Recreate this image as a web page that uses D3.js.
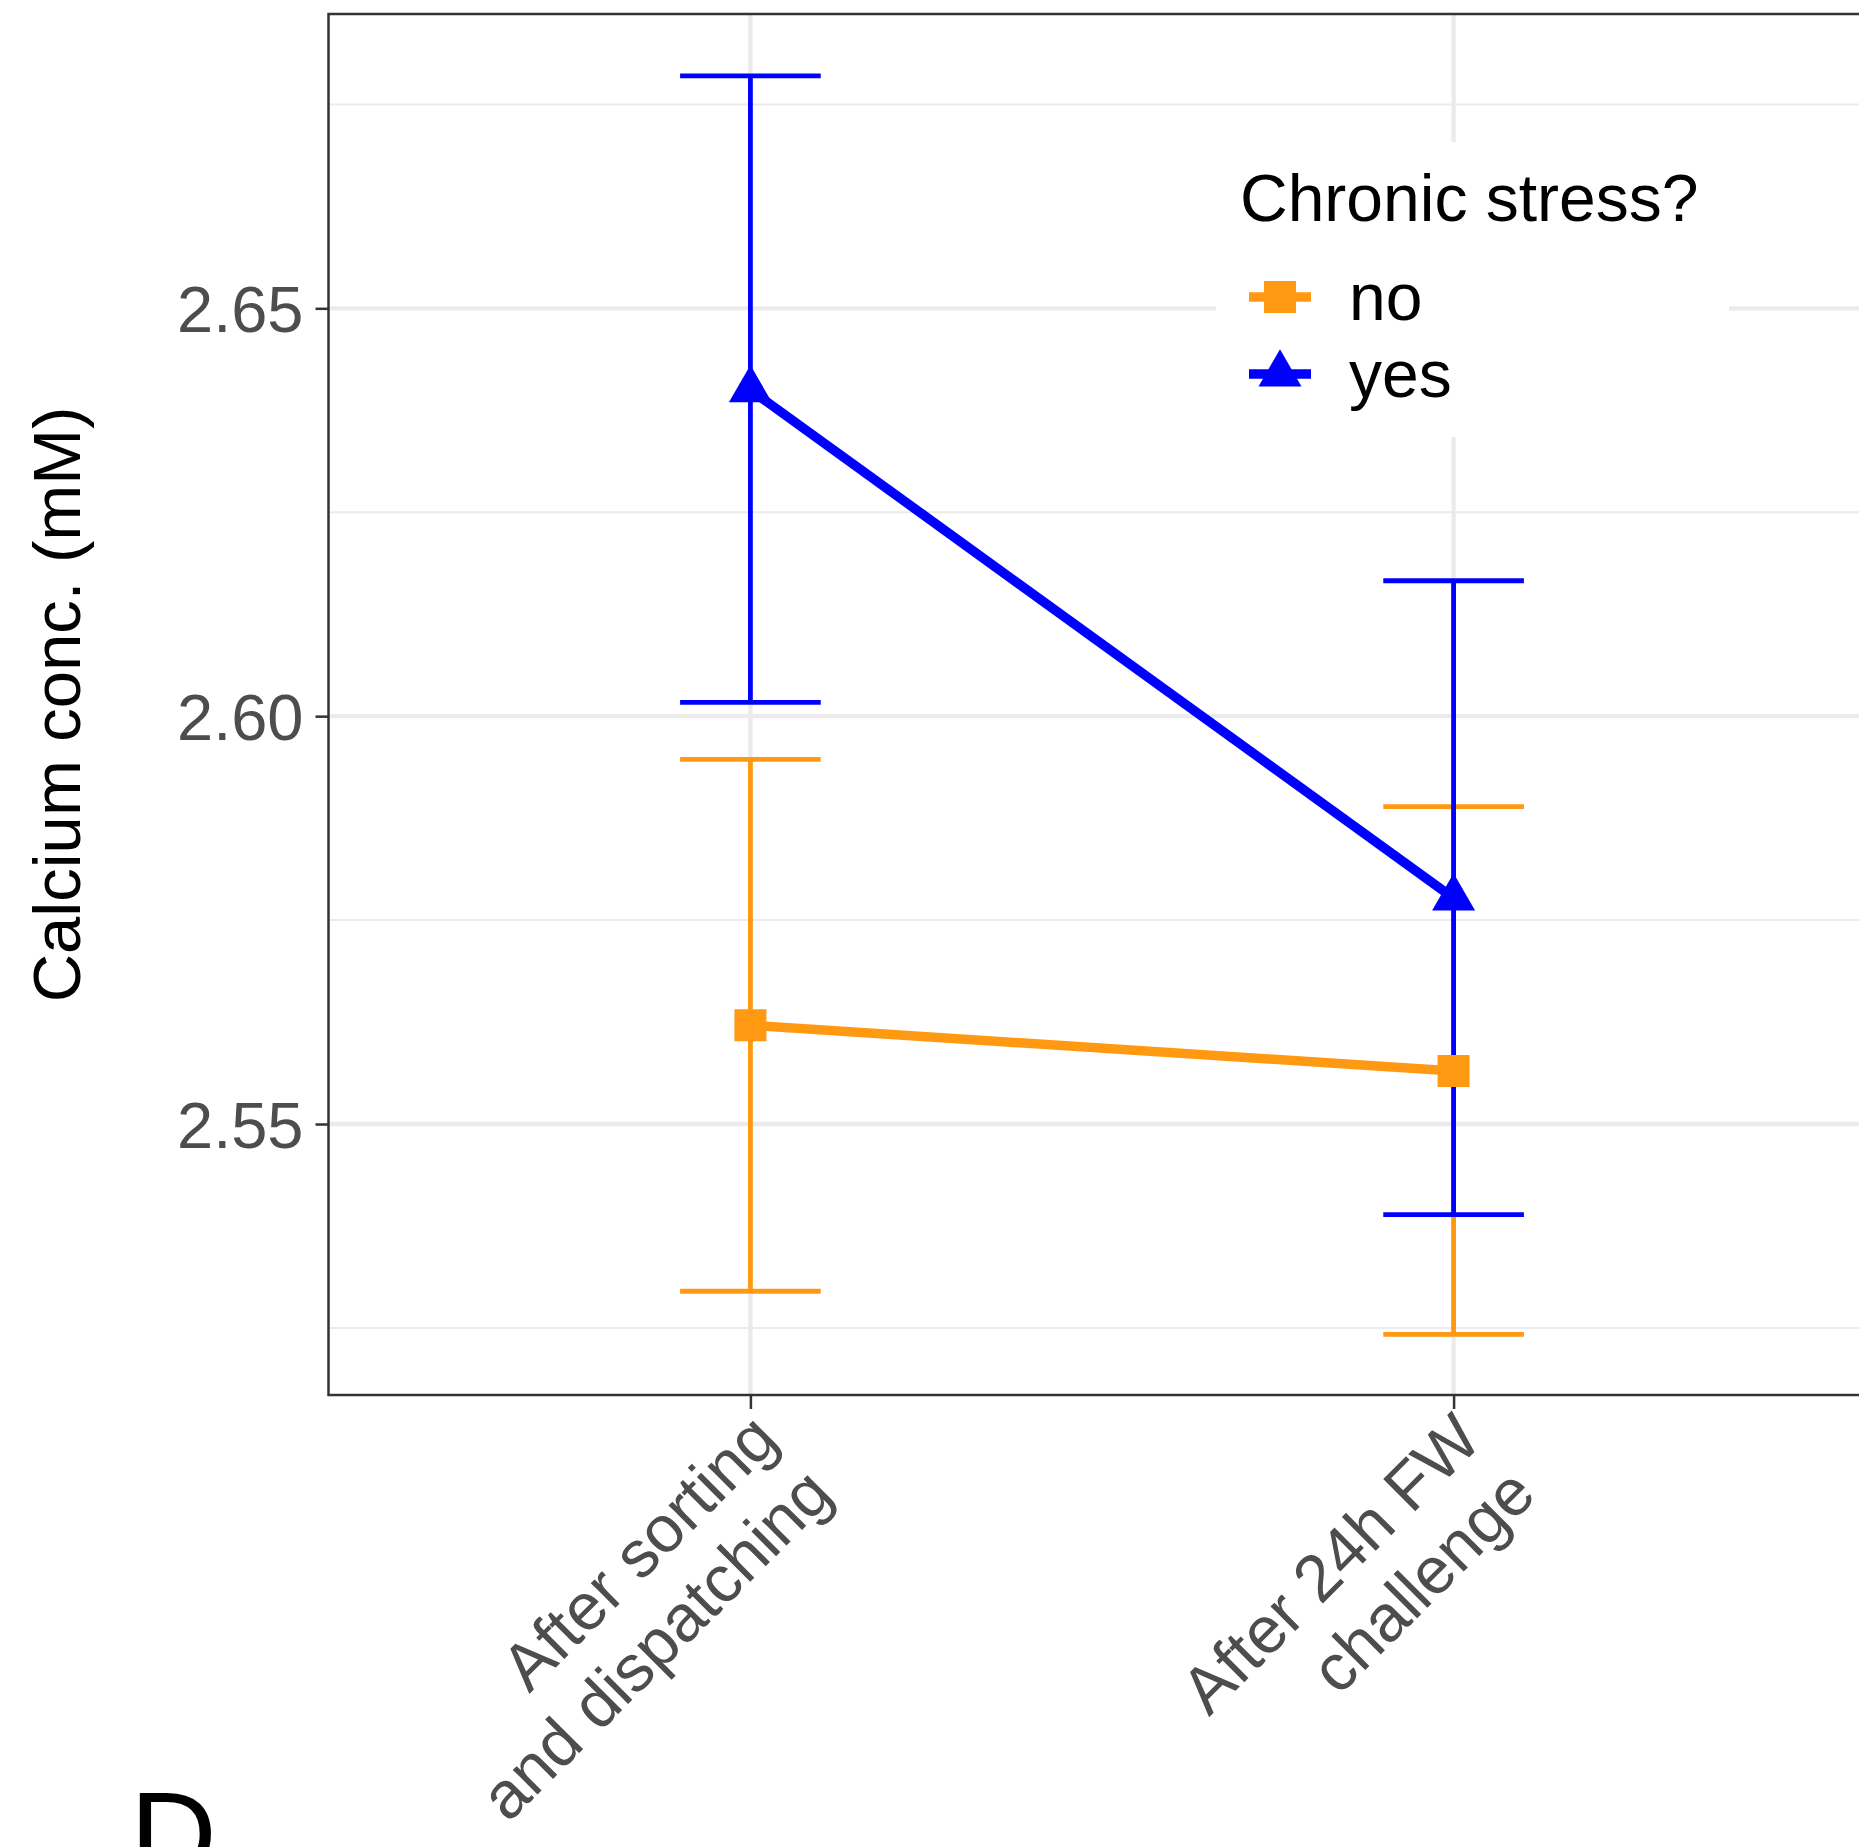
<!DOCTYPE html>
<html>
<head>
<meta charset="utf-8">
<script src="https://cdn.jsdelivr.net/npm/d3@7"></script>
<style>
body { margin: 0; background: #fff; }
svg text { font-family: "Liberation Sans", Arial, Helvetica, sans-serif; }
</style>
</head>
<body>
<svg width="1859" height="1847"></svg>
<script>
// data
var timepoints = ["After sorting\nand dispatching", "After 24h FW\nchallenge"];
var groups = ["no", "yes"];
var meanNo = [2.5621, 2.5565];
var lowerNo = [2.5295, 2.5242];
var upperNo = [2.5947, 2.5889];
var meanYes = [2.6400, 2.5777];
var lowerYes = [2.6017, 2.5389];
var upperYes = [2.6785, 2.6166];
var majorTicks = [2.55, 2.60, 2.65];
var minorTicks = [2.525, 2.575, 2.625, 2.675];
var groupColors = ["#FF9912", "#0000FF"];
var legendTitle = "Chronic stress?";
var yTitle = "Calcium conc. (mM)";
var panelTag = "D";

var svg = d3.select("svg");

// panel box (right edge runs past the image, as in the original crop)
var pLeft = 328.5, pRight = 1875.5, pTop = 14, pBottom = 1395;

var x = d3.scalePoint().domain(timepoints).range([pLeft, pRight]).padding(0.6);
var y = d3.scaleLinear().domain([2.51678, 2.68608]).range([pBottom, pTop]);

// series built from the arrays
var series = groups.map(function(g, gi) {
  var m = gi == 0 ? meanNo : meanYes;
  var lo = gi == 0 ? lowerNo : lowerYes;
  var hi = gi == 0 ? upperNo : upperYes;
  return {
    group: g,
    color: groupColors[gi],
    values: timepoints.map(function(t, i) { return {t: t, mean: m[i], lo: lo[i], hi: hi[i]}; })
  };
});

svg.append("rect").attr("width", 1859).attr("height", 1847).attr("fill", "#fff");

svg.append("clipPath").attr("id", "panel")
  .append("rect").attr("x", pLeft).attr("y", pTop)
  .attr("width", pRight - pLeft).attr("height", pBottom - pTop);

var panel = svg.append("g").attr("clip-path", "url(#panel)");

// grid
panel.selectAll(".minor").data(minorTicks).enter().append("line")
  .attr("x1", pLeft).attr("x2", pRight)
  .attr("y1", function(d) { return y(d); }).attr("y2", function(d) { return y(d); })
  .attr("stroke", "#EBEBEB").attr("stroke-width", 2);
panel.selectAll(".major").data(majorTicks).enter().append("line")
  .attr("x1", pLeft).attr("x2", pRight)
  .attr("y1", function(d) { return y(d); }).attr("y2", function(d) { return y(d); })
  .attr("stroke", "#EBEBEB").attr("stroke-width", 4.3);
panel.selectAll(".vgrid").data(timepoints).enter().append("line")
  .attr("x1", function(d) { return x(d); }).attr("x2", function(d) { return x(d); })
  .attr("y1", pTop).attr("y2", pBottom)
  .attr("stroke", "#EBEBEB").attr("stroke-width", 4.3);

// legend background sits over the grid
panel.append("rect")
  .attr("x", 1216).attr("y", 142).attr("width", 513).attr("height", 295)
  .attr("fill", "#fff");

var capHalf = x.step() * 0.1;

// error bars
series.forEach(function(s) {
  var eb = panel.append("g").attr("stroke", s.color).attr("stroke-width", 4.8).attr("fill", "none");
  s.values.forEach(function(d) {
    var cx = x(d.t);
    eb.append("line").attr("x1", cx).attr("x2", cx).attr("y1", y(d.hi)).attr("y2", y(d.lo));
    eb.append("line").attr("x1", cx - capHalf).attr("x2", cx + capHalf).attr("y1", y(d.hi)).attr("y2", y(d.hi));
    eb.append("line").attr("x1", cx - capHalf).attr("x2", cx + capHalf).attr("y1", y(d.lo)).attr("y2", y(d.lo));
  });
});

// lines
var line = d3.line()
  .x(function(d) { return x(d.t); })
  .y(function(d) { return y(d.mean); });
series.forEach(function(s) {
  panel.append("path").datum(s.values)
    .attr("d", line)
    .attr("fill", "none").attr("stroke", s.color).attr("stroke-width", 9.5);
});

// points
var shapes = [d3.symbol().type(d3.symbolSquare).size(1024), d3.symbol().type(d3.symbolTriangle).size(800)];
series.forEach(function(s, si) {
  panel.selectAll(".pt" + si).data(s.values).enter().append("path")
    .attr("d", shapes[si])
    .attr("transform", function(d) { return "translate(" + x(d.t) + "," + y(d.mean) + ")"; })
    .attr("fill", s.color);
});

// panel border
svg.append("rect")
  .attr("x", pLeft).attr("y", pTop).attr("width", pRight - pLeft).attr("height", pBottom - pTop)
  .attr("fill", "none").attr("stroke", "#333333").attr("stroke-width", 2.5);

// y axis
var yAxis = svg.append("g")
  .attr("transform", "translate(" + pLeft + ",0)")
  .call(d3.axisLeft(y).tickValues(majorTicks).tickFormat(d3.format(".2f")).tickSize(13).tickPadding(12));
yAxis.select(".domain").remove();
yAxis.selectAll(".tick line").attr("stroke", "#333333").attr("stroke-width", 2.5);
yAxis.selectAll(".tick text")
  .attr("fill", "#4D4D4D").attr("font-size", 65)
  .attr("font-family", "Liberation Sans, Arial, sans-serif")
  .attr("dy", "0.36em");

// x axis
var xAxis = svg.append("g")
  .attr("transform", "translate(0," + pBottom + ")")
  .call(d3.axisBottom(x).tickSize(14).tickFormat(""));
xAxis.select(".domain").remove();
xAxis.selectAll(".tick line").attr("stroke", "#333333").attr("stroke-width", 2.5);

timepoints.forEach(function(t) {
  var lines = t.split("\n");
  var txt = svg.append("text")
    .attr("transform", "translate(" + x(t) + "," + (pBottom + 17) + ") rotate(-45)")
    .attr("text-anchor", "end")
    .attr("font-size", 66)
    .attr("fill", "#4D4D4D");
  lines.forEach(function(l, i) {
    txt.append("tspan").attr("x", 0).attr("y", 43 + i * 77).text(l);
  });
});

// y title
svg.append("text")
  .attr("transform", "translate(80," + ((pTop + pBottom) / 2) + ") rotate(-90)")
  .attr("text-anchor", "middle")
  .attr("font-size", 67)
  .attr("fill", "#000")
  .text(yTitle);

// legend
var legend = svg.append("g");
legend.append("text")
  .attr("x", 1240).attr("y", 221)
  .attr("font-size", 66).attr("fill", "#000")
  .text(legendTitle);
var keyY = [297, 374];
series.forEach(function(s, si) {
  var k = legend.append("g").attr("transform", "translate(1280," + keyY[si] + ")");
  k.append("line").attr("x1", -31).attr("x2", 31).attr("y1", 0).attr("y2", 0)
    .attr("stroke", s.color).attr("stroke-width", 9.5);
  k.append("path").attr("d", shapes[si]).attr("fill", s.color);
  legend.append("text")
    .attr("x", 1349).attr("y", keyY[si] + 23)
    .attr("font-size", 66).attr("fill", "#000")
    .text(s.group);
});

// panel tag
svg.append("text")
  .attr("x", 130).attr("y", 1876)
  .attr("font-size", 120).attr("fill", "#000")
  .text(panelTag);
</script>
</body>
</html>
